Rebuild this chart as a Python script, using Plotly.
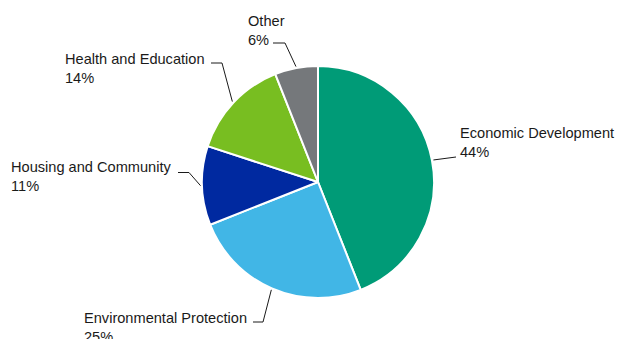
import math
import plotly.graph_objects as go

labels = ["Economic Development", "Environmental Protection", "Housing and Community",
          "Health and Education", "Other"]
values = [44, 25, 11, 14, 6]
colors = ["#009B77", "#41B6E6", "#0029A0", "#78BE21", "#75787B"]

W, H = 617, 339
CX, CY, R = 318, 182, 116

# label layout (pixels): text left x, text block center y, elbow point, horizontal end point
label_pos = [
    dict(tx=458, ty=142.5, elbow=(456, 157), end=(456, 157)),
    dict(tx=82, ty=327, elbow=(263, 322), end=(253, 322)),
    dict(tx=9, ty=176, elbow=(189, 172.5), end=(178, 172.5)),
    dict(tx=63, ty=68.5, elbow=(222, 63), end=(211, 63)),
    dict(tx=246, ty=30.5, elbow=(285, 43), end=(273, 43)),
]

def px(x):
    return x / W

def py(y):
    return 1 - y / H

fig = go.Figure(go.Pie(
    labels=labels, values=values, sort=False, direction="clockwise", rotation=0,
    marker=dict(colors=colors, line=dict(color="white", width=2)),
    textinfo="none", hoverinfo="label+percent", showlegend=False,
    domain=dict(x=[px(CX - R), px(CX + R)], y=[py(CY + R), py(CY - R)]),
))

total = sum(values)
cum = 0
shapes, annotations = [], []
for lab, v, pos in zip(labels, values, label_pos):
    mid = (cum + v / 2) / total * 2 * math.pi
    cum += v
    sx = CX + (R + 1.5) * math.sin(mid)
    sy = CY - (R + 1.5) * math.cos(mid)
    ex, ey = pos["elbow"]
    hx, hy = pos["end"]
    path = f"M {px(sx)},{py(sy)} L {px(ex)},{py(ey)} L {px(hx)},{py(hy)}"
    shapes.append(dict(type="path", xref="paper", yref="paper", path=path,
                       line=dict(color="#1a1a1a", width=1)))
    pct = round(v / total * 100)
    annotations.append(dict(
        xref="paper", yref="paper", x=px(pos["tx"]), y=py(pos["ty"]),
        xanchor="left", yanchor="middle", align="left", showarrow=False,
        text=f"{lab}<br>{pct}%",
        font=dict(family="Liberation Sans, Arial, sans-serif", size=14.6, color="#1a1a1a"),
    ))

fig.update_layout(
    width=W, height=H, margin=dict(l=0, r=0, t=0, b=0),
    paper_bgcolor="white", plot_bgcolor="white",
    shapes=shapes, annotations=annotations,
)
fig.write_html("out.html")
